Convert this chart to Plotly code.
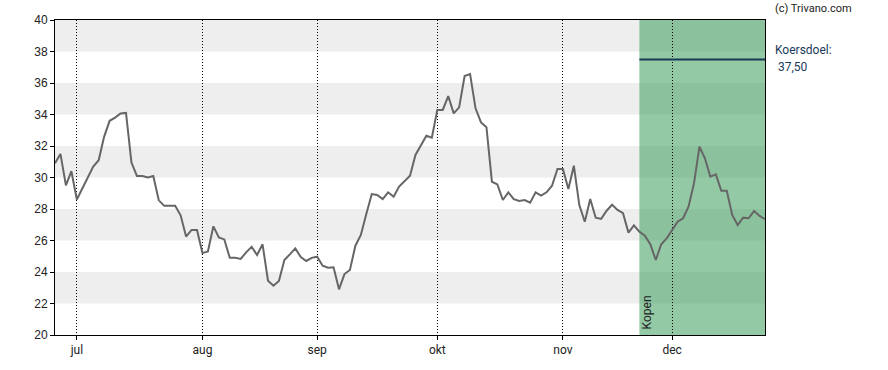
import plotly.graph_objects as go

dates = [
    "2025-06-25", "2025-06-26", "2025-06-27", "2025-06-30",
    "2025-07-01", "2025-07-02", "2025-07-03", "2025-07-04", "2025-07-07", "2025-07-08",
    "2025-07-09", "2025-07-10", "2025-07-11", "2025-07-14", "2025-07-15", "2025-07-16",
    "2025-07-17", "2025-07-18", "2025-07-21", "2025-07-22", "2025-07-23", "2025-07-24",
    "2025-07-25", "2025-07-28", "2025-07-29", "2025-07-30", "2025-07-31",
    "2025-08-01", "2025-08-04", "2025-08-05", "2025-08-06", "2025-08-07", "2025-08-08",
    "2025-08-11", "2025-08-12", "2025-08-13", "2025-08-14", "2025-08-15", "2025-08-18",
    "2025-08-19", "2025-08-20", "2025-08-21", "2025-08-22", "2025-08-25", "2025-08-26",
    "2025-08-27", "2025-08-28", "2025-08-29",
    "2025-09-01", "2025-09-02", "2025-09-03", "2025-09-04", "2025-09-05", "2025-09-08",
    "2025-09-09", "2025-09-10", "2025-09-11", "2025-09-12", "2025-09-15", "2025-09-16",
    "2025-09-17", "2025-09-18", "2025-09-19", "2025-09-22", "2025-09-23", "2025-09-24",
    "2025-09-25", "2025-09-26", "2025-09-29", "2025-09-30",
    "2025-10-01", "2025-10-02", "2025-10-03", "2025-10-06", "2025-10-07", "2025-10-08",
    "2025-10-09", "2025-10-10", "2025-10-13", "2025-10-14", "2025-10-15", "2025-10-16",
    "2025-10-17", "2025-10-20", "2025-10-21", "2025-10-22", "2025-10-23", "2025-10-24",
    "2025-10-27", "2025-10-28", "2025-10-29", "2025-10-30", "2025-10-31",
    "2025-11-03", "2025-11-04", "2025-11-05", "2025-11-06", "2025-11-07", "2025-11-10",
    "2025-11-11", "2025-11-12", "2025-11-13", "2025-11-14", "2025-11-17", "2025-11-18",
    "2025-11-19", "2025-11-20", "2025-11-21", "2025-11-24", "2025-11-25", "2025-11-26",
    "2025-11-27", "2025-11-28",
    "2025-12-01", "2025-12-02", "2025-12-03", "2025-12-04", "2025-12-05", "2025-12-08",
    "2025-12-09", "2025-12-10", "2025-12-11", "2025-12-12", "2025-12-15", "2025-12-16",
    "2025-12-17", "2025-12-18", "2025-12-19", "2025-12-22", "2025-12-23", "2025-12-24",
]

prices = [
    30.9, 31.5, 29.5, 30.4,
    28.6, 29.3, 30.05, 30.7, 31.1, 32.6,
    33.6, 33.8, 34.07, 34.1, 30.95, 30.1,
    30.1, 30.0, 30.1, 28.55, 28.2, 28.2,
    28.2, 27.6, 26.25, 26.67, 26.67,
    25.2, 25.3, 26.9, 26.2, 26.07, 24.9,
    24.9, 24.83, 25.25, 25.6, 25.08, 25.76,
    23.45, 23.13, 23.43, 24.76, 25.12, 25.5,
    24.95, 24.7, 24.9,
    24.97, 24.4, 24.27, 24.3, 22.9, 23.87,
    24.13, 25.67, 26.35, 27.68, 28.95, 28.89,
    28.63, 29.06, 28.78, 29.42, 29.78, 30.11,
    31.43, 32.02, 32.65, 32.53,
    34.29, 34.29, 35.17, 34.07, 34.45, 36.44,
    36.57, 34.39, 33.5, 33.19, 29.73, 29.56,
    28.57, 29.06, 28.63, 28.51, 28.57, 28.4,
    29.06, 28.85, 29.06, 29.48, 30.54,
    30.54, 29.27, 30.75, 28.25, 27.19, 28.63,
    27.45, 27.37, 27.89, 28.27, 27.94, 27.73,
    26.5, 26.96, 26.56, 26.31, 25.76, 24.76,
    25.76, 26.14,
    26.67, 27.19, 27.41, 28.15, 29.63, 31.96,
    31.22, 30.05, 30.2, 29.16, 29.16, 27.62,
    26.98, 27.45, 27.41, 27.87, 27.56, 27.35,
]

month_ticks = ["2025-07-01", "2025-08-01", "2025-09-01", "2025-10-01", "2025-11-03", "2025-12-01"]
month_labels = ["jul", "aug", "sep", "okt", "nov", "dec"]
y_ticks = list(range(20, 41, 2))

buy_start = "2025-11-21"
advice = "Kopen"
target = 37.50
target_label = "37,50"

x_start, x_end = dates[0], dates[-1]

shapes = []
# alternating grey bands
for lo in y_ticks[1:-1:2]:
    shapes.append(dict(type="rect", xref="paper", yref="y", x0=0, x1=1, y0=lo, y1=lo + 2,
                       fillcolor="#eeeeee", line_width=0, layer="below"))
# buy zone
shapes.append(dict(type="rect", xref="x", yref="paper", x0=buy_start, x1=x_end, y0=0, y1=1,
                   fillcolor="rgba(40,150,75,0.5)", line_width=0, layer="below"))
# target line
shapes.append(dict(type="line", xref="x", yref="y", x0=buy_start, x1=x_end, y0=target, y1=target,
                   line=dict(color="#1b3a57", width=2), layer="above"))

fig = go.Figure()
fig.add_trace(go.Scatter(x=dates, y=prices, mode="lines",
                         line=dict(color="#666666", width=2), hoverinfo="skip",
                         showlegend=False))

fig.update_layout(
    width=888, height=370,
    margin=dict(l=55, r=123, t=20, b=35),
    paper_bgcolor="white", plot_bgcolor="white",
    shapes=shapes,
    font=dict(family="Roboto, Arial, sans-serif", size=12, color="#222222"),
    xaxis=dict(
        type="date",
        range=[x_start, x_end],
        rangebreaks=[dict(bounds=["sat", "mon"])],
        tickvals=month_ticks, ticktext=month_labels,
        showgrid=True, gridcolor="black", griddash="1px,2px", gridwidth=1,
        showline=True, linecolor="black", linewidth=1, mirror=True,
        ticks="outside", ticklen=4, tickcolor="black",
        tickfont=dict(family="Roboto", size=12, color="#222222"),
        zeroline=False,
    ),
    yaxis=dict(
        range=[20, 40],
        tickvals=y_ticks,
        showgrid=False,
        showline=True, linecolor="black", linewidth=1, mirror=True,
        ticks="outside", ticklen=4, tickcolor="black",
        tickfont=dict(family="Liberation Sans, Arial", size=12, color="#222222"),
        zeroline=False,
    ),
    annotations=[
        dict(text="(c) Trivano.com", xref="paper", yref="paper", x=1, y=1, xshift=8, yshift=20,
             xanchor="left", yanchor="top", showarrow=False,
             font=dict(family="Roboto", size=11, color="#222222")),
        dict(text="Koersdoel:", xref="paper", yref="paper", x=1, y=1, xshift=8, yshift=-21,
             xanchor="left", yanchor="top", showarrow=False,
             font=dict(family="Roboto", size=12, color="#1a3a5a")),
        dict(text=target_label, xref="paper", yref="paper", x=1, y=1, xshift=11, yshift=-38,
             xanchor="left", yanchor="top", showarrow=False,
             font=dict(family="Roboto", size=12, color="#1a3a5a")),
        dict(text=advice, xref="x", yref="paper", x=buy_start, y=0, xshift=8, yshift=4,
             xanchor="center", yanchor="bottom", textangle=-90, showarrow=False,
             font=dict(family="Roboto", size=12, color="#222222")),
    ],
)

fig.write_html("out.html")
